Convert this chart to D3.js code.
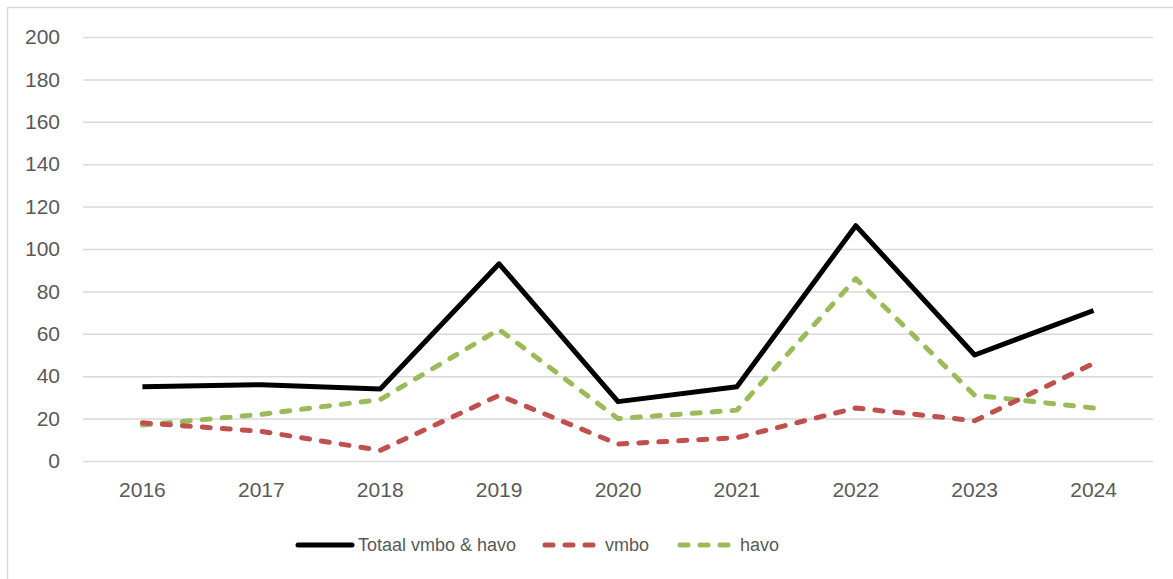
<!DOCTYPE html>
<html>
<head>
<meta charset="utf-8">
<script src="https://cdn.jsdelivr.net/npm/d3@7"></script>
<style>
  body { margin: 0; background: #fff; }
  svg text { font-family: "Liberation Sans", Arial, sans-serif; fill: #595959; }
</style>
</head>
<body>
<div id="chart"></div>
<script>
// data
const years = ["2016", "2017", "2018", "2019", "2020", "2021", "2022", "2023", "2024"];
const totaal = [35, 36, 34, 93, 28, 35, 111, 50, 71];
const vmbo = [18, 14, 5, 31, 8, 11, 25, 19, 46];
const havo = [17, 22, 29, 62, 20, 24, 86, 31, 25];
const yTicks = [0, 20, 40, 60, 80, 100, 120, 140, 160, 180, 200];

const series = [
    { name: "Totaal vmbo & havo", values: totaal, color: "#000000", dash: null },
    { name: "vmbo", values: vmbo, color: "#C0504D", dash: "8,12" },
    { name: "havo", values: havo, color: "#9BBB59", dash: "8,12" }
];

const width = 1173, height = 579;
const margin = { top: 37, bottom: 118, left: 83, right: 20 };

const svg = d3.select("#chart").append("svg")
    .attr("width", width)
    .attr("height", height);

// outer frame
svg.append("path")
    .attr("d", "M7.5," + height + "V7.5H" + width)
    .attr("fill", "none")
    .attr("stroke", "#D9D9D9")
    .attr("stroke-width", 1.5);

const x = d3.scaleBand()
    .domain(years)
    .range([margin.left, width - margin.right]);

const y = d3.scaleLinear()
    .domain([0, 200])
    .range([height - margin.bottom, margin.top]);

// gridlines + y labels
const yAxis = svg.append("g")
    .attr("transform", "translate(" + margin.left + ",0)")
    .call(d3.axisLeft(y).tickValues(yTicks).tickSize(-(width - margin.left - margin.right)).tickPadding(23));
yAxis.select(".domain").remove();
yAxis.selectAll(".tick line").attr("stroke", "#D9D9D9").attr("stroke-width", 1.5);
yAxis.selectAll(".tick text").style("font-size", "21px");

// x labels
const xAxis = svg.append("g")
    .attr("transform", "translate(0," + y(0) + ")")
    .call(d3.axisBottom(x).tickSize(0).tickPadding(21));
xAxis.select(".domain").remove();
xAxis.selectAll(".tick text").style("font-size", "21px");

const line = d3.line()
    .x((d, i) => x(years[i]) + x.bandwidth() / 2)
    .y(d => y(d));

// draw in reverse so the total sits on top
svg.selectAll(".serie")
    .data(series.slice().reverse())
    .join("path")
    .attr("class", "serie")
    .attr("d", d => line(d.values))
    .attr("fill", "none")
    .attr("stroke", d => d.color)
    .attr("stroke-width", 5)
    .attr("stroke-linejoin", "round")
    .attr("stroke-linecap", d => d.dash ? "round" : "butt")
    .attr("stroke-dasharray", d => d.dash);

// legend
const legendY = 545;
const legendPos = [
    { x1: 298, x2: 352, tx: 358 },
    { x1: 545, x2: 596, tx: 605 },
    { x1: 680, x2: 730, tx: 740 }
];
const legend = svg.selectAll(".legend")
    .data(series)
    .join("g")
    .attr("class", "legend");
legend.append("line")
    .attr("x1", (d, i) => legendPos[i].x1)
    .attr("x2", (d, i) => legendPos[i].x2)
    .attr("y1", legendY)
    .attr("y2", legendY)
    .attr("stroke", d => d.color)
    .attr("stroke-width", 5)
    .attr("stroke-linecap", "round")
    .attr("stroke-dasharray", d => d.dash ? "8,12" : null);
legend.append("text")
    .attr("x", (d, i) => legendPos[i].tx)
    .attr("y", legendY)
    .attr("dy", "0.35em")
    .style("font-size", "18px")
    .text(d => d.name);
</script>
</body>
</html>
